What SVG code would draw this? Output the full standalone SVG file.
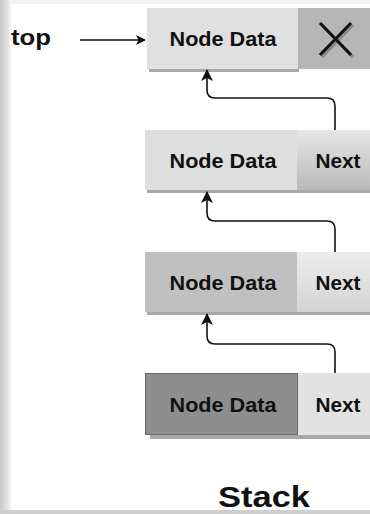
<svg xmlns="http://www.w3.org/2000/svg" width="370" height="514" viewBox="0 0 370 514">
  <defs>
    <style>
      .lbl { font-family: "Liberation Sans", Arial, sans-serif; font-weight: bold; fill: #111; }
      .nd { font-size: 20px; text-anchor: middle; }
      .conn { fill: none; stroke: #111; stroke-width: 1.6; }
      .shadow { fill: #a8a8a8; }
    </style>
    <marker id="ah" viewBox="0 0 10 10" refX="9" refY="5" markerWidth="10" markerHeight="10" markerUnits="userSpaceOnUse" orient="auto">
      <path d="M0,0 L10,5 L0,10 L2.5,5 Z" fill="#111"/>
    </marker>
    <marker id="ah2" viewBox="0 0 12 12" refX="11" refY="6" markerWidth="12" markerHeight="12" markerUnits="userSpaceOnUse" orient="auto">
      <path d="M0,0 L12,6 L0,12 L3,6 Z" fill="#111"/>
    </marker>
    <linearGradient id="edge" x1="0" y1="0" x2="1" y2="0">
      <stop offset="0" stop-color="#c9c9c9"/>
      <stop offset="0.7" stop-color="#e6e6e6"/>
      <stop offset="1" stop-color="#ffffff"/>
    </linearGradient>
    <linearGradient id="nextA" x1="0" y1="0" x2="0" y2="1">
      <stop offset="0" stop-color="#e6e6e6"/>
      <stop offset="1" stop-color="#b9b9b9"/>
    </linearGradient>
    <linearGradient id="nextB" x1="0" y1="0" x2="0" y2="1">
      <stop offset="0" stop-color="#ececec"/>
      <stop offset="1" stop-color="#d4d4d4"/>
    </linearGradient>
  </defs>

  <rect x="0" y="0" width="370" height="514" fill="#ffffff"/>
  <rect x="0" y="0" width="12" height="510" fill="url(#edge)"/>
  <rect x="0" y="510" width="370" height="4" fill="#cfcfcf"/>
  <rect x="12" y="0" width="358" height="4" fill="#f2f2f2"/>

  <text class="lbl" x="11" y="45" font-size="22" textLength="40" lengthAdjust="spacingAndGlyphs">top</text>

  <g id="node1">
    <rect class="shadow" x="149" y="68" width="150" height="4"/>
    <rect x="147" y="8" width="151" height="61" fill="#e0e0e0"/>
    <rect x="298" y="8" width="72" height="61" fill="#b6b6b6"/>
    <g stroke-width="3.2" stroke-linecap="butt">
      <path d="M322,25 L353,57 M353,25 L322,57" stroke="#8a8a8a"/>
      <path d="M320,23 L351,55 M351,23 L320,55" stroke="#111"/>
    </g>
    <text class="lbl nd" x="223" y="46" textLength="107" lengthAdjust="spacingAndGlyphs">Node Data</text>
  </g>

  <g id="node2">
    <rect class="shadow" x="147" y="190" width="223" height="3"/>
    <rect x="145" y="130" width="152" height="60" fill="#dedede"/>
    <rect x="297" y="130" width="73" height="60" fill="url(#nextA)"/>
    <text class="lbl nd" x="223" y="168" textLength="107" lengthAdjust="spacingAndGlyphs">Node Data</text>
    <text class="lbl nd" x="338" y="168" textLength="45" lengthAdjust="spacingAndGlyphs">Next</text>
  </g>

  <g id="node3">
    <rect class="shadow" x="147" y="312" width="223" height="3"/>
    <rect x="145" y="252" width="152" height="60" fill="#c0c0c0"/>
    <rect x="297" y="252" width="73" height="60" fill="url(#nextB)"/>
    <text class="lbl nd" x="223" y="290" textLength="107" lengthAdjust="spacingAndGlyphs">Node Data</text>
    <text class="lbl nd" x="338" y="290" textLength="45" lengthAdjust="spacingAndGlyphs">Next</text>
  </g>

  <g id="node4">
    <rect class="shadow" x="150" y="435" width="220" height="4"/>
    <rect x="145.5" y="373.5" width="152" height="61" fill="#8e8e8e" stroke="#6a6a6a" stroke-width="1"/>
    <rect x="298" y="373" width="72" height="62" fill="#e2e2e2"/>
    <text class="lbl nd" x="223" y="412" textLength="107" lengthAdjust="spacingAndGlyphs">Node Data</text>
    <text class="lbl nd" x="338" y="412" textLength="45" lengthAdjust="spacingAndGlyphs">Next</text>
  </g>

  <g id="connectors">
    <path class="conn" d="M80,40 H145" marker-end="url(#ah)"/>
    <path class="conn" d="M335,130 V106 Q335,98 327,98 H215 Q207,98 207,90 V70" marker-end="url(#ah2)"/>
    <path class="conn" d="M335,252 V229 Q335,221 327,221 H215 Q207,221 207,213 V192" marker-end="url(#ah2)"/>
    <path class="conn" d="M335,373 V352 Q335,344 327,344 H215 Q207,344 207,336 V314" marker-end="url(#ah2)"/>
  </g>

  <text class="lbl" x="264" y="507" font-size="30" text-anchor="middle" textLength="92" lengthAdjust="spacingAndGlyphs">Stack</text>
</svg>
